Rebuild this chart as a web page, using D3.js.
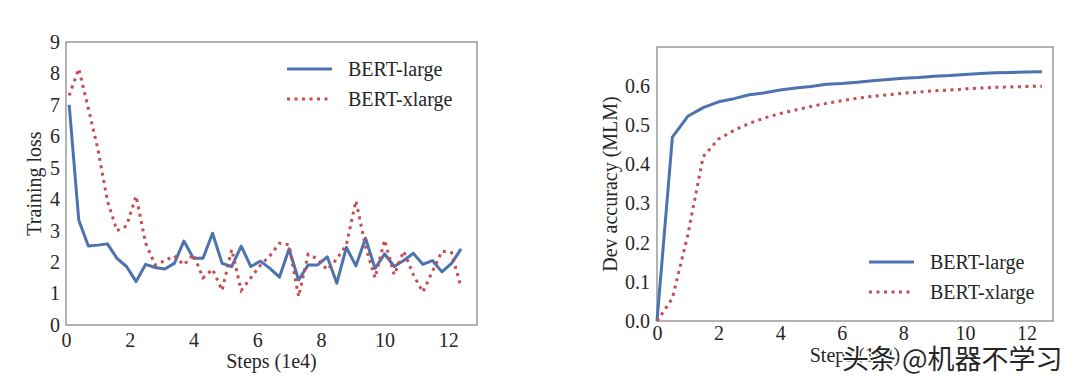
<!DOCTYPE html>
<html lang="en">
<head>
    <meta charset="UTF-8">
    <title>BERT-large vs BERT-xlarge</title>
    <script src="https://d3js.org/d3.v7.min.js"></script>
    <style>
        body {
            margin: 0;
            background: #fff;
        }
        svg {
            display: block;
            background: #fff;
        }
        text {
            font-family: "Liberation Serif", "DejaVu Serif", serif;
            fill: #262626;
        }
    </style>
</head>
<body>
    <svg id="chart" width="1080" height="386"></svg>

    <script>
        // Training loss data (steps in 1e4)
        const lossSteps = [0.1, 0.4, 0.7, 1.0, 1.3, 1.6, 1.9, 2.2, 2.5, 2.8, 3.1, 3.4, 3.7, 4.0,
            4.3, 4.6, 4.9, 5.2, 5.5, 5.8, 6.1, 6.4, 6.7, 7.0, 7.3, 7.6, 7.9, 8.2, 8.5, 8.8,
            9.1, 9.4, 9.7, 10.0, 10.3, 10.6, 10.9, 11.2, 11.5, 11.8, 12.1, 12.4];
        const lossLarge = [7.0, 3.34, 2.51, 2.54, 2.58, 2.12, 1.86, 1.38, 1.93, 1.83, 1.78, 1.96, 2.67, 2.12,
            2.12, 2.92, 1.96, 1.86, 2.51, 1.86, 2.03, 1.8, 1.52, 2.42, 1.43, 1.91, 1.91, 2.17, 1.33, 2.47,
            1.88, 2.76, 1.8, 2.26, 1.86, 2.05, 2.28, 1.93, 2.05, 1.69, 1.96, 2.42];
        const lossXlarge = [7.3, 8.15, 6.9, 5.6, 3.95, 3.0, 3.15, 4.1, 2.6, 1.91, 2.05, 2.2, 1.91, 2.25,
            1.5, 1.77, 1.1, 2.4, 1.1, 1.5, 1.9, 2.2, 2.6, 2.55, 0.9, 2.25, 2.1, 1.75, 2.1, 2.55,
            3.95, 2.5, 1.5, 2.7, 1.6, 2.35, 1.6, 1.05, 1.7, 2.35, 2.3, 1.2];

        // Dev accuracy (MLM) data
        const accSteps = [0, 0.5, 1.0, 1.5, 2.0, 2.5, 3.0, 3.5, 4.0, 4.5, 5.0, 5.5, 6.0, 6.5,
            7.0, 7.5, 8.0, 8.5, 9.0, 9.5, 10.0, 10.5, 11.0, 11.5, 12.0, 12.5];
        const accLarge = [0.0, 0.47, 0.523, 0.545, 0.56, 0.568, 0.578, 0.583, 0.59, 0.595, 0.599, 0.605, 0.607, 0.61,
            0.614, 0.617, 0.62, 0.622, 0.625, 0.627, 0.63, 0.632, 0.634, 0.635, 0.636, 0.637];
        const accXlarge = [0.0, 0.058, 0.22, 0.42, 0.465, 0.487, 0.505, 0.519, 0.53, 0.539, 0.548, 0.556, 0.563, 0.569,
            0.574, 0.578, 0.582, 0.585, 0.588, 0.59, 0.593, 0.595, 0.597, 0.598, 0.599, 0.6];

        // Ticks and labels
        const stepTicks = [0, 2, 4, 6, 8, 10, 12];
        const lossTicks = [0, 1, 2, 3, 4, 5, 6, 7, 8, 9];
        const accTicks = [0, 0.1, 0.2, 0.3, 0.4, 0.5, 0.6];
        const seriesNames = ["BERT-large", "BERT-xlarge"];

        const blue = "#4c72b0";
        const red = "#c44e52";

        const svg = d3.select("#chart");

        function drawPanel(p) {
            const g = svg.append("g");
            const x = d3.scaleLinear().domain(p.xDomain).range([p.left, p.right]);
            const y = d3.scaleLinear().domain(p.yDomain).range([p.bottom, p.top]);

            // x axis labels
            const xa = g.append("g")
                .attr("transform", `translate(0,${p.bottom})`)
                .call(d3.axisBottom(x).tickValues(stepTicks).tickSize(0).tickPadding(p.xPad).tickFormat(d3.format("d")));
            // y axis labels
            const ya = g.append("g")
                .attr("transform", `translate(${p.left},0)`)
                .call(d3.axisLeft(y).tickValues(p.yTicks).tickSize(0).tickPadding(p.yPad).tickFormat(p.yFormat));
            [xa, ya].forEach(a => {
                a.select(".domain").remove();
                a.selectAll("text")
                    .style("font-family", '"Liberation Serif", serif')
                    .style("font-size", "20px")
                    .attr("fill", "#262626");
            });

            // frame
            g.append("rect")
                .attr("x", p.left)
                .attr("y", p.top)
                .attr("width", p.right - p.left)
                .attr("height", p.bottom - p.top)
                .attr("fill", "none")
                .attr("stroke", "#808080")
                .attr("stroke-width", 1.2);

            const line = d3.line()
                .x((d, i) => x(p.steps[i]))
                .y(d => y(d));

            g.append("path")
                .datum(p.series[0])
                .attr("d", line)
                .attr("fill", "none")
                .attr("stroke", blue)
                .attr("stroke-width", 3)
                .attr("stroke-linejoin", "round");

            g.append("path")
                .datum(p.series[1])
                .attr("d", line)
                .attr("fill", "none")
                .attr("stroke", red)
                .attr("stroke-width", 3)
                .attr("stroke-dasharray", "3,4.5");

            // axis titles
            g.append("text")
                .attr("x", (p.left + p.right) / 2)
                .attr("y", p.xTitleY)
                .attr("text-anchor", "middle")
                .style("font-size", "20px")
                .text("Steps (1e4)");

            g.append("text")
                .attr("transform", `translate(${p.yTitleX},${(p.top + p.bottom) / 2}) rotate(-90)`)
                .attr("text-anchor", "middle")
                .style("font-size", "20px")
                .text(p.yTitle);

            // legend
            seriesNames.forEach((name, i) => {
                const ly = p.legY + i * 30;
                g.append("line")
                    .attr("x1", p.legX)
                    .attr("x2", p.legX + 45)
                    .attr("y1", ly)
                    .attr("y2", ly)
                    .attr("stroke", i === 0 ? blue : red)
                    .attr("stroke-width", 3)
                    .attr("stroke-dasharray", i === 0 ? null : "3,4.5");
                g.append("text")
                    .attr("x", p.legX + 61)
                    .attr("y", ly)
                    .attr("dy", "0.35em")
                    .style("font-size", "20px")
                    .text(name);
            });
        }

        drawPanel({
            left: 66, right: 477, top: 42, bottom: 325,
            xDomain: [0, 12.9], yDomain: [0, 9],
            yTicks: lossTicks, yFormat: d3.format("d"),
            xPad: 8, yPad: 6,
            steps: lossSteps, series: [lossLarge, lossXlarge],
            xTitleY: 368, yTitleX: 41, yTitle: "Training loss",
            legX: 287, legY: 69
        });

        drawPanel({
            left: 657, right: 1053, top: 47, bottom: 321,
            xDomain: [0, 12.86], yDomain: [0, 0.7],
            yTicks: accTicks, yFormat: d3.format(".1f"),
            xPad: 5, yPad: 7,
            steps: accSteps, series: [accLarge, accXlarge],
            xTitleY: 362, yTitleX: 617, yTitle: "Dev accuracy (MLM)",
            legX: 869, legY: 262
        });

        // watermark (sits over the right x title, as in the source image)
        svg.append("text")
            .attr("x", 842)
            .attr("y", 369)
            .style("font-family", '"Noto Sans CJK SC", sans-serif')
            .style("font-size", "27px")
            .attr("fill", "#2a2a2a")
            .attr("stroke", "#fff")
            .attr("stroke-width", 3)
            .attr("paint-order", "stroke")
            .text("头条 @机器不学习");
    </script>
</body>
</html>
